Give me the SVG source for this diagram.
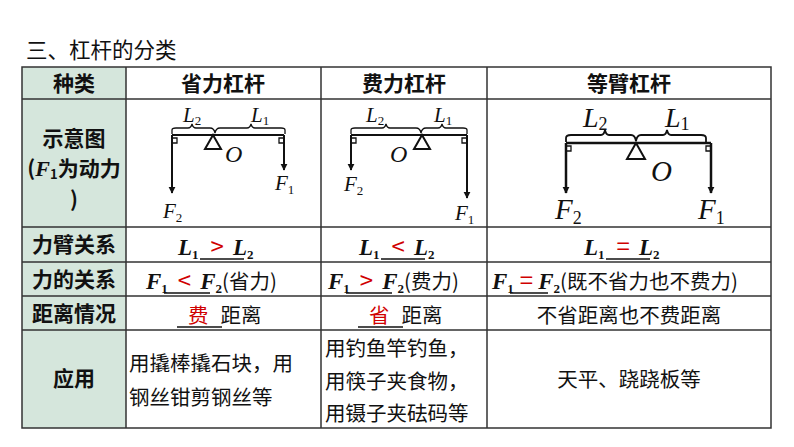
<svg xmlns="http://www.w3.org/2000/svg" width="794" height="447" viewBox="0 0 794 447">
<defs>
<style>
.g{fill:#d5e6dc}
.ln{stroke:#333;stroke-width:1.5;fill:none}
.h{font-family:"Noto Sans CJK SC",sans-serif;font-weight:bold;font-size:21px;fill:#111;text-anchor:middle}
.t{font-family:"Noto Sans CJK SC",sans-serif;font-size:20.5px;fill:#111;font-style:normal;font-weight:normal}
.c{text-anchor:middle}
.v{font-family:"Liberation Serif","Noto Sans CJK SC",serif;font-style:italic;font-weight:bold;font-size:23px;fill:#111}
.s{font-size:13px;font-style:normal}
.r{fill:#d00000;font-family:"Noto Sans CJK SC",sans-serif;font-style:normal;font-weight:normal;font-size:24px}
.lv{font-family:"Liberation Serif",serif;font-style:italic;font-size:21px;fill:#111}
.b{stroke:#111;stroke-width:2;fill:none}
.u{stroke:#111;stroke-width:1.3}
</style>
<marker id="ar" viewBox="0 0 10 10" refX="9" refY="5" markerWidth="7" markerHeight="10" orient="auto" markerUnits="userSpaceOnUse"><path d="M0,0L10,5L0,10z" fill="#111"/></marker>
</defs>
<rect width="794" height="447" fill="#fff"/>
<text x="26" y="58" class="t" style="font-size:21.5px">三、杠杆的分类</text>
<g id="table">
<rect x="22" y="67" width="104" height="361" class="g"/>
<path class="ln" d="M22,67H771V428H22Z M126,67V428 M321,67V428 M487,67V428 M22,99H771 M22,227H771 M22,262H771 M22,296H771 M22,330H771"/>
</g>
<g id="header">
<text x="74" y="91" class="h">种类</text>
<text x="223" y="91" class="h">省力杠杆</text>
<text x="404" y="91" class="h">费力杠杆</text>
<text x="629" y="91" class="h">等臂杠杆</text>
</g>
<g id="labels">
<text x="74" y="146" class="h">示意图</text>
<text x="74" y="176" class="h">(<tspan font-family="Liberation Serif" font-style="italic" font-size="22">F</tspan><tspan font-size="13" dy="3">1</tspan><tspan dy="-3">为动力</tspan></text>
<text x="74" y="207" class="h">)</text>
<text x="74" y="252" class="h">力臂关系</text>
<text x="74" y="287" class="h">力的关系</text>
<text x="74" y="321" class="h">距离情况</text>
<text x="74" y="386" class="h">应用</text>
</g>
<g id="lever1">
<path class="b" d="M172,135H284"/>
<path class="b" d="M213,135L205,149H221Z"/>
<path class="b" d="M172,135V193" marker-end="url(#ar)"/>
<path class="b" d="M284,135V170" marker-end="url(#ar)"/>
<path class="u" fill="none" d="M172,138h5v5h-5 M284,138h-5v5h5"/>
<path class="u" fill="none" d="M172,134v-4q0,-2 4,-2h12q3,0 4,-4q1,4 4,4h14q4,0 5,5q1,-5 5,-5h27q3,0 4,-4q1,4 4,4h26q4,0 4,2v4"/>
<text x="183" y="122" class="lv">L<tspan class="s" dy="3">2</tspan></text>
<text x="251" y="122" class="lv">L<tspan class="s" dy="3">1</tspan></text>
<text x="225" y="162" class="lv" style="font-size:24px">O</text>
<text x="163" y="218" class="lv">F<tspan class="s" dy="4">2</tspan></text>
<text x="275" y="190" class="lv">F<tspan class="s" dy="4">1</tspan></text>
</g>
<g id="lever2">
<path class="b" d="M351,135H467"/>
<path class="b" d="M422,135L414,149H430Z"/>
<path class="b" d="M351,135V170" marker-end="url(#ar)"/>
<path class="b" d="M467,135V198" marker-end="url(#ar)"/>
<path class="u" fill="none" d="M351,138h5v5h-5 M467,138h-5v5h5"/>
<path class="u" fill="none" d="M351,134v-4q0,-2 4,-2h27q3,0 4,-4q1,4 4,4h26q4,0 5,5q1,-5 5,-5h12q3,0 4,-4q1,4 4,4h17q4,0 4,2v4"/>
<text x="366" y="122" class="lv">L<tspan class="s" dy="3">2</tspan></text>
<text x="434" y="122" class="lv">L<tspan class="s" dy="3">1</tspan></text>
<text x="390" y="162" class="lv" style="font-size:24px">O</text>
<text x="344" y="191" class="lv">F<tspan class="s" dy="4">2</tspan></text>
<text x="455" y="220" class="lv">F<tspan class="s" dy="4">1</tspan></text>
</g>
<g id="lever3">
<path class="b" d="M566,143H711" style="stroke-width:2.5"/>
<path class="b" d="M636,143L627,159H645Z"/>
<path class="b" d="M566,143V193" style="stroke-width:2.5" marker-end="url(#ar)"/>
<path class="b" d="M711,143V193" style="stroke-width:2.5" marker-end="url(#ar)"/>
<path class="u" fill="none" d="M566,146h5v5h-5 M711,146h-5v5h5"/>
<path class="u" style="stroke-width:1.8" fill="none" d="M566,142v-4q0,-3 5,-3h30q3,0 4,-5q1,5 4,5h22q4,0 5,6q1,-6 5,-6h22q3,0 4,-5q1,5 4,5h30q5,0 5,3v4"/>
<text x="583" y="127" class="lv" style="font-size:28px">L<tspan class="s" style="font-size:18px" dy="3">2</tspan></text>
<text x="665" y="127" class="lv" style="font-size:28px">L<tspan class="s" style="font-size:18px" dy="3">1</tspan></text>
<text x="651" y="181" class="lv" style="font-size:29px">O</text>
<text x="555" y="219" class="lv" style="font-size:29px">F<tspan class="s" style="font-size:18px" dy="5">2</tspan></text>
<text x="698" y="219" class="lv" style="font-size:29px">F<tspan class="s" style="font-size:18px" dy="5">1</tspan></text>
</g>
<g id="row-arm">
<text x="178" y="255" class="v">L<tspan class="s" dy="4">1</tspan><tspan class="r" dy="-4" dx="12">&gt;</tspan><tspan dx="9">L</tspan><tspan class="s" dy="4">2</tspan></text>
<path class="u" d="M200,259h44"/>
<text x="359" y="255" class="v">L<tspan class="s" dy="4">1</tspan><tspan class="r" dy="-4" dx="12">&lt;</tspan><tspan dx="9">L</tspan><tspan class="s" dy="4">2</tspan></text>
<path class="u" d="M381,259h44"/>
<text x="584" y="255" class="v">L<tspan class="s" dy="4">1</tspan><tspan class="r" dy="-4" dx="12">=</tspan><tspan dx="9">L</tspan><tspan class="s" dy="4">2</tspan></text>
<path class="u" d="M606,259h44"/>
</g>
<g id="row-force">
<text x="146" y="289" class="v">F<tspan class="s" dy="4">1</tspan><tspan class="r" dy="-4" dx="10">&lt;</tspan><tspan dx="9">F</tspan><tspan class="s" dy="4">2</tspan><tspan class="t" dy="-4">(省力)</tspan></text>
<path class="u" d="M164,293h46"/>
<text x="328" y="289" class="v">F<tspan class="s" dy="4">1</tspan><tspan class="r" dy="-4" dx="10">&gt;</tspan><tspan dx="9">F</tspan><tspan class="s" dy="4">2</tspan><tspan class="t" dy="-4">(费力)</tspan></text>
<path class="u" d="M346,293h46"/>
<text x="492" y="289" class="v">F<tspan class="s" dy="4">1</tspan><tspan class="r" dy="-4" dx="6">=</tspan><tspan dx="5">F</tspan><tspan class="s" dy="4">2</tspan><tspan class="t" dy="-4">(既不省力也不费力)</tspan></text>
<path class="u" d="M510,293h38"/>
</g>
<g id="row-dist">
<text x="188" y="323" class="t"><tspan class="r" style="font-size:20.5px">费</tspan><tspan dx="12">距离</tspan></text>
<path class="u" d="M177,327h45"/>
<text x="369" y="323" class="t"><tspan class="r" style="font-size:20.5px">省</tspan><tspan dx="12">距离</tspan></text>
<path class="u" d="M358,327h45"/>
<text x="629" y="323" class="t c">不省距离也不费距离</text>
</g>
<g id="row-app">
<text x="129" y="371" class="t">用撬棒撬石块，用</text>
<text x="129" y="405" class="t">钢丝钳剪钢丝等</text>
<text x="325" y="356" class="t">用钓鱼竿钓鱼，</text>
<text x="325" y="389" class="t">用筷子夹食物，</text>
<text x="325" y="421" class="t">用镊子夹砝码等</text>
<text x="629" y="387" class="t c">天平、跷跷板等</text>
</g>
</svg>
